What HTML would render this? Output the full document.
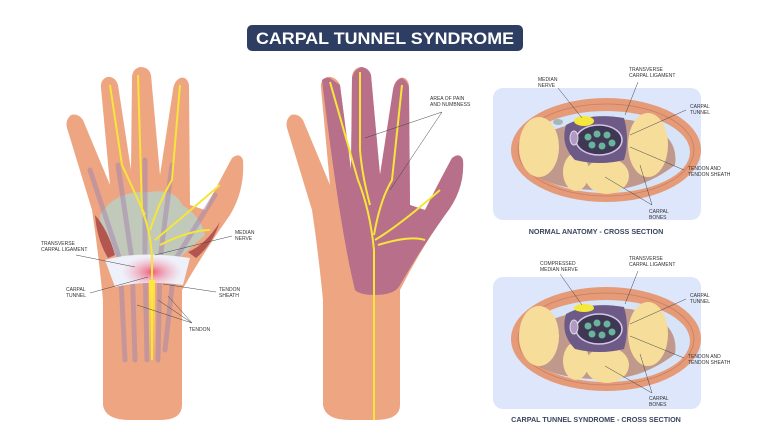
<!DOCTYPE html>
<html><head><style>
html,body{margin:0;padding:0;background:#fff;}
svg{display:block;}
text{font-family:"Liberation Sans",sans-serif;}
</style></head><body>
<svg width="770" height="447" viewBox="0 0 770 447" xmlns="http://www.w3.org/2000/svg">
<defs>
<radialGradient id="pain" cx="0.5" cy="0.5" r="0.5">
<stop offset="0" stop-color="#ef4a6a" stop-opacity="0.9"/>
<stop offset="1" stop-color="#f3a0b0" stop-opacity="0"/>
</radialGradient>
<linearGradient id="yfade" x1="0" y1="0" x2="0" y2="1">
<stop offset="0" stop-color="#ffe93a"/>
<stop offset="1" stop-color="#ffe93a" stop-opacity="0"/>
</linearGradient>
<g id="hand">
<path d="M103,300 L103,405 Q105,420 130,420 L160,420 Q182,420 182,405 L182,290 Q205,250 230,215 Q245,190 243,160 Q240,152 232,158 Q220,180 205,210 L190,205 L189,85 Q187,76 180,78 Q174,81 173,90 L160,175 L151,75 Q149,67 140,67 Q132,69 132,78 L131,170 L118,85 Q115,76 107,77 Q100,80 101,88 L110,185 L83,120 Q78,113 71,115 Q65,120 67,128 L92,210 Q98,250 103,300 Z" fill="#eda681"/>
</g>
</defs>

<!-- title -->
<rect x="247" y="25" width="276" height="26" rx="5" fill="#2d3e62"/>
<text x="385" y="44" text-anchor="middle" fill="#fff" font-size="17" font-weight="bold" textLength="258" lengthAdjust="spacingAndGlyphs">CARPAL TUNNEL SYNDROME</text>

<!-- left hand -->
<use href="#hand"/>
<path d="M100,215 Q115,190 150,192 Q175,188 182,205 Q200,215 205,235 L175,262 L120,262 Q100,240 100,215Z" fill="#b8d0c4" opacity="0.85"/>
<g stroke="#a888b0" stroke-width="5" opacity="0.55" fill="none" stroke-linecap="round">
<path d="M90,170 L120,260 L125,360"/><path d="M118,165 L132,260 L135,360"/><path d="M145,160 L145,260 L147,360"/><path d="M172,165 L160,260 L158,360"/><path d="M215,195 L175,260 L165,350"/>
</g>
<path d="M95,215 Q108,230 115,255 L108,258 Q97,240 95,215Z" fill="#b55550"/>
<path d="M220,222 Q205,245 188,252 L196,258 Q212,245 220,222Z" fill="#b55550"/>
<path d="M105,260 Q140,250 190,258 L183,285 Q145,280 115,287 Z" fill="#eef0fa"/>
<ellipse cx="152" cy="272" rx="30" ry="16" fill="url(#pain)"/>
<g stroke="#f7e53a" stroke-width="2" fill="none">
<path d="M152,360 L152,255 Q150,230 142,210 L138,75"/>
<path d="M150,230 Q160,200 172,180 L180,85"/>
<path d="M145,215 L122,165 L110,85"/>
<path d="M155,240 Q185,215 220,185"/>
<path d="M160,245 Q190,230 210,230"/>
</g>
<rect x="149" y="280" width="6" height="80" fill="url(#yfade)"/>
<g font-size="5" fill="#333">
<text x="41" y="245">TRANSVERSE</text><text x="41" y="251">CARPAL LIGAMENT</text>
<text x="66" y="291">CARPAL</text><text x="66" y="297">TUNNEL</text>
<text x="235" y="234">MEDIAN</text><text x="235" y="240">NERVE</text>
<text x="219" y="291">TENDON</text><text x="219" y="297">SHEATH</text>
<text x="189" y="331">TENDON</text>
</g>
<g stroke="#444" stroke-width="0.5">
<line x1="76" y1="255" x2="135" y2="267"/><line x1="90" y1="293" x2="148" y2="277"/>
<line x1="232" y1="236" x2="155" y2="255"/><line x1="216" y1="292" x2="163" y2="284"/>
<line x1="192" y1="323" x2="137" y2="305"/><line x1="192" y1="323" x2="158" y2="300"/><line x1="192" y1="323" x2="168" y2="296"/>
</g>

<!-- middle hand -->
<path d="M323,300 L323,405 Q325,420 350,420 L375,420 Q400,420 400,405 L400,290 Q420,250 445,215 Q465,190 463,160 Q460,152 452,158 Q440,180 425,210 L410,205 L409,85 Q407,76 400,78 Q394,81 393,90 L380,175 L371,75 Q369,67 360,67 Q352,69 352,78 L351,170 L340,85 Q336,76 327,77 Q320,80 321,88 L330,185 L303,120 Q298,113 291,115 Q285,120 287,128 L312,210 Q318,250 323,300 Z" fill="#eda681"/>
<path d="M322,80 Q325,77 330,78 L340,85 L351,170 L352,78 Q354,69 362,67 Q369,69 371,75 L380,175 L393,90 Q395,80 402,78 Q409,82 409,90 L410,205 L425,210 Q440,180 452,158 Q460,152 463,160 Q465,190 445,215 Q420,250 400,285 Q395,295 375,295 Q360,295 355,290 Q340,230 322,80Z" fill="#b86f8a"/>
<g stroke="#f7e53a" stroke-width="2" fill="none">
<path d="M374,420 L374,250 Q370,210 358,180 L330,82"/>
<path d="M374,235 Q380,200 392,180 L402,85"/>
<path d="M370,205 Q362,175 360,150 L360,72"/>
<path d="M375,240 Q400,225 440,190"/><path d="M378,245 Q410,235 425,240"/>
</g>
<g font-size="5" fill="#333"><text x="430" y="100">AREA OF PAIN</text><text x="430" y="106">AND NUMBNESS</text></g>
<g stroke="#444" stroke-width="0.5"><line x1="442" y1="112" x2="365" y2="138"/><line x1="442" y1="112" x2="390" y2="190"/></g>

<!-- cross sections -->
<g id="cs1">
<rect x="493" y="88" width="208" height="132" rx="10" fill="#dde6fa"/>
<ellipse cx="606" cy="150" rx="95" ry="52" fill="#e59a78"/>
<ellipse cx="606" cy="150" rx="88" ry="46" fill="none" stroke="#c97e63" stroke-width="0.8"/>
<ellipse cx="606" cy="152" rx="84" ry="41" fill="#d7e3f6"/>
<path d="M530,140 Q580,115 630,120 Q680,130 675,165 Q640,192 600,190 Q550,190 530,170Z" fill="#b6775f" opacity="0.7"/>
<ellipse cx="539" cy="147" rx="20" ry="30" fill="#f6de9a"/>
<ellipse cx="648" cy="145" rx="20" ry="32" fill="#f6de9a"/>
<ellipse cx="576" cy="172" rx="13" ry="19" fill="#f6de9a"/>
<ellipse cx="607" cy="176" rx="22" ry="18" fill="#f6de9a"/>
<path d="M566,125 Q590,112 624,118 Q630,140 624,160 Q600,166 575,160 Q560,145 566,125Z" fill="#6e5a86"/>
<ellipse cx="599" cy="140" rx="23" ry="15" fill="#3e3855" stroke="#d6c6e6" stroke-width="1.5"/>
<g fill="#6ab49c"><circle cx="588" cy="137" r="3.5"/><circle cx="597" cy="134" r="3.5"/><circle cx="607" cy="135" r="3.5"/><circle cx="592" cy="145" r="3.5"/><circle cx="602" cy="146" r="3.5"/><circle cx="612" cy="143" r="3.5"/></g>
<ellipse cx="574" cy="138" rx="4" ry="7" fill="#b39ac6" stroke="#ddd" stroke-width="1"/>
</g>
<ellipse cx="584" cy="121" rx="10" ry="5" fill="#f5e83a"/>
<ellipse cx="558" cy="122" rx="5" ry="3" fill="#9aa" opacity="0.8"/>
<g font-size="5" fill="#333">
<text x="538" y="81">MEDIAN</text><text x="538" y="87">NERVE</text>
<text x="629" y="71">TRANSVERSE</text><text x="629" y="77">CARPAL LIGAMENT</text>
<text x="690" y="108">CARPAL</text><text x="690" y="114">TUNNEL</text>
<text x="688" y="170">TENDON AND</text><text x="688" y="176">TENDON SHEATH</text>
<text x="649" y="213">CARPAL</text><text x="649" y="219">BONES</text>
</g>
<g stroke="#444" stroke-width="0.5">
<line x1="558" y1="88" x2="582" y2="118"/><line x1="638" y1="82" x2="625" y2="115"/>
<line x1="686" y1="110" x2="630" y2="135"/><line x1="684" y1="170" x2="630" y2="147"/>
<line x1="652" y1="205" x2="605" y2="177"/><line x1="652" y1="205" x2="640" y2="165"/>
</g>
<text x="596" y="234" text-anchor="middle" font-size="7.2" font-weight="bold" fill="#3a4560">NORMAL ANATOMY - CROSS SECTION</text>

<g transform="translate(0,189)"><use href="#cs1"/></g>
<ellipse cx="584" cy="308" rx="10" ry="4" fill="#f5e83a"/>
<g font-size="5" fill="#333">
<text x="540" y="265">COMPRESSED</text><text x="540" y="271">MEDIAN NERVE</text>
<text x="629" y="260">TRANSVERSE</text><text x="629" y="266">CARPAL LIGAMENT</text>
<text x="690" y="297">CARPAL</text><text x="690" y="303">TUNNEL</text>
<text x="688" y="358">TENDON AND</text><text x="688" y="364">TENDON SHEATH</text>
<text x="649" y="400">CARPAL</text><text x="649" y="406">BONES</text>
</g>
<g stroke="#444" stroke-width="0.5">
<line x1="560" y1="274" x2="582" y2="305"/><line x1="638" y1="271" x2="625" y2="304"/>
<line x1="686" y1="299" x2="630" y2="324"/><line x1="684" y1="358" x2="630" y2="336"/>
<line x1="652" y1="393" x2="605" y2="366"/><line x1="652" y1="393" x2="640" y2="354"/>
</g>
<text x="596" y="422" text-anchor="middle" font-size="7.2" font-weight="bold" fill="#3a4560">CARPAL TUNNEL SYNDROME - CROSS SECTION</text>
</svg>
</body></html>
